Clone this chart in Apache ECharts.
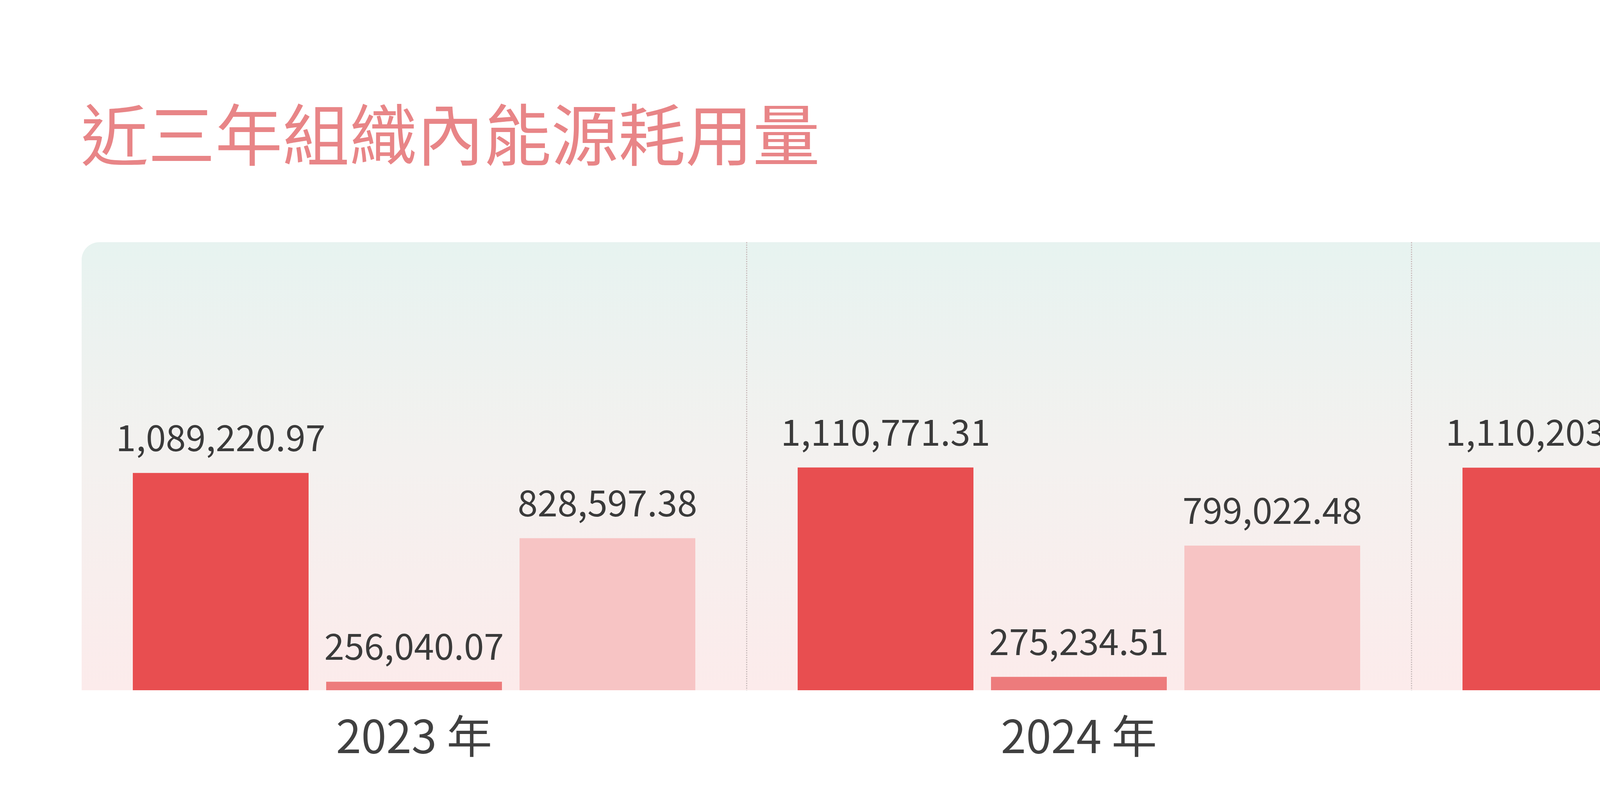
<!DOCTYPE html>
<html>
<head>
<meta charset="utf-8">
<title>近三年組織內能源耗用量</title>
<script src="https://cdn.jsdelivr.net/npm/echarts@6/dist/echarts.min.js"></script>
<style>
  html, body { margin: 0; padding: 0; background: #fff; }
  #chart { width: 6764px; height: 2048px; }
</style>
</head>
<body>
<div id="chart"></div>
<script>
// data
var years = ['2023 年', '2024 年', '2025 年'];
var seriesNames = ['初級能源', '次級能源', '農廢及燃氣 / 油發電'];
var primaryEnergy = [1089220.97, 1110771.31, 1110203.82];
var secondaryEnergy = [256040.07, 275234.51, 270271.66];
var agriGasOil = [828597.38, 799022.48, 1790047.07];

var W = 6764, H = 2048;
var FONT = "'Noto Sans CJK TC', 'Noto Sans', sans-serif";
var colors = ['#e84e50', '#ed7b7c', '#f7c4c4'];

var grid = { left: 209, right: 1449, top: 620, bottom: 281 };

function fmt(v) {
  return v.toLocaleString('en-US', { minimumFractionDigits: 2, maximumFractionDigits: 2 });
}

// copy legend base and override a few keys
function $extend(base, extra) {
  var out = JSON.parse(JSON.stringify(base));
  for (var k in extra) out[k] = extra[k];
  return out;
}

var chart = echarts.init(document.getElementById('chart'));

var legendBase = {
  orient: 'vertical',
  left: 5707,
  padding: 0,
  itemWidth: 118,
  itemHeight: 119,
  icon: 'rect',
  selectedMode: false,
  textStyle: {
    fontFamily: FONT,
    fontSize: 118,
    lineHeight: 150,
    color: '#474747',
    padding: [0, 0, 0, 47]
  }
};

var values = [primaryEnergy, secondaryEnergy, agriGasOil];

var option = {
  backgroundColor: '#fff',
  animation: false,
  title: [{
    text: '近三年組織內能源耗用量',
    left: 207,
    top: 259,
    padding: 0,
    textStyle: { fontFamily: FONT, fontSize: 172, fontWeight: 'normal', color: '#e88587' }
  }, {
    text: '單位：GJ',
    right: W - 5310,
    top: 328,
    padding: 0,
    textStyle: { fontFamily: FONT, fontSize: 100, fontWeight: 300, color: '#a9a9a9' }
  }],
  legend: [
    $extend(legendBase, { data: [seriesNames[0]], top: 983 - 15.5 }),
    $extend(legendBase, { data: [seriesNames[1]], top: 1243 - 15.5 }),
    $extend(legendBase, {
      // square sits beside the first of the two text lines
      data: [{ name: seriesNames[2], icon: 'path://M0,15.5h118v119h-118z M0,300h0.01v0.01z' }],
      itemHeight: 300,
      top: 1503 - 15.5,
      formatter: function(name) { return name.replace(' / ', ' /\n'); }
    })
  ],
  grid: grid,
  graphic: [{
    type: 'rect',
    silent: true,
    z: -10,
    shape: {
      x: grid.left,
      y: grid.top,
      width: W - grid.left - grid.right,
      height: H - grid.top - grid.bottom,
      r: [45, 45, 0, 0]
    },
    style: {
      fill: new echarts.graphic.LinearGradient(0, 0, 0, 1, [
        { offset: 0, color: '#e7f3f0' },
        { offset: 0.5, color: '#f4f1ef' },
        { offset: 1, color: '#fcebeb' }
      ])
    }
  }],
  xAxis: {
    type: 'category',
    data: years,
    axisLine: { show: false },
    axisTick: { show: false },
    axisLabel: { fontFamily: FONT, fontSize: 116, color: '#404040', margin: 59 },
    splitLine: {
      show: true,
      showMinLine: false,
      showMaxLine: false,
      lineStyle: { type: 'dotted', color: '#c9bcbc', width: 3 }
    }
  },
  yAxis: {
    type: 'value',
    show: false,
    min: 222000,
    max: 2010000,
    splitLine: { show: false }
  },
  series: []
};

for (var i = 0; i < seriesNames.length; i++) {
  option.series.push({
    name: seriesNames[i],
    type: 'bar',
    data: values[i],
    barWidth: 450,
    barGap: '10%',
    itemStyle: { color: colors[i] },
    label: {
      show: true,
      position: 'top',
      distance: 45,
      fontFamily: FONT,
      fontSize: 92,
      color: '#3a3a3a',
      formatter: function(p) { return fmt(p.value); }
    }
  });
}

chart.setOption(option);
</script>
</body>
</html>
